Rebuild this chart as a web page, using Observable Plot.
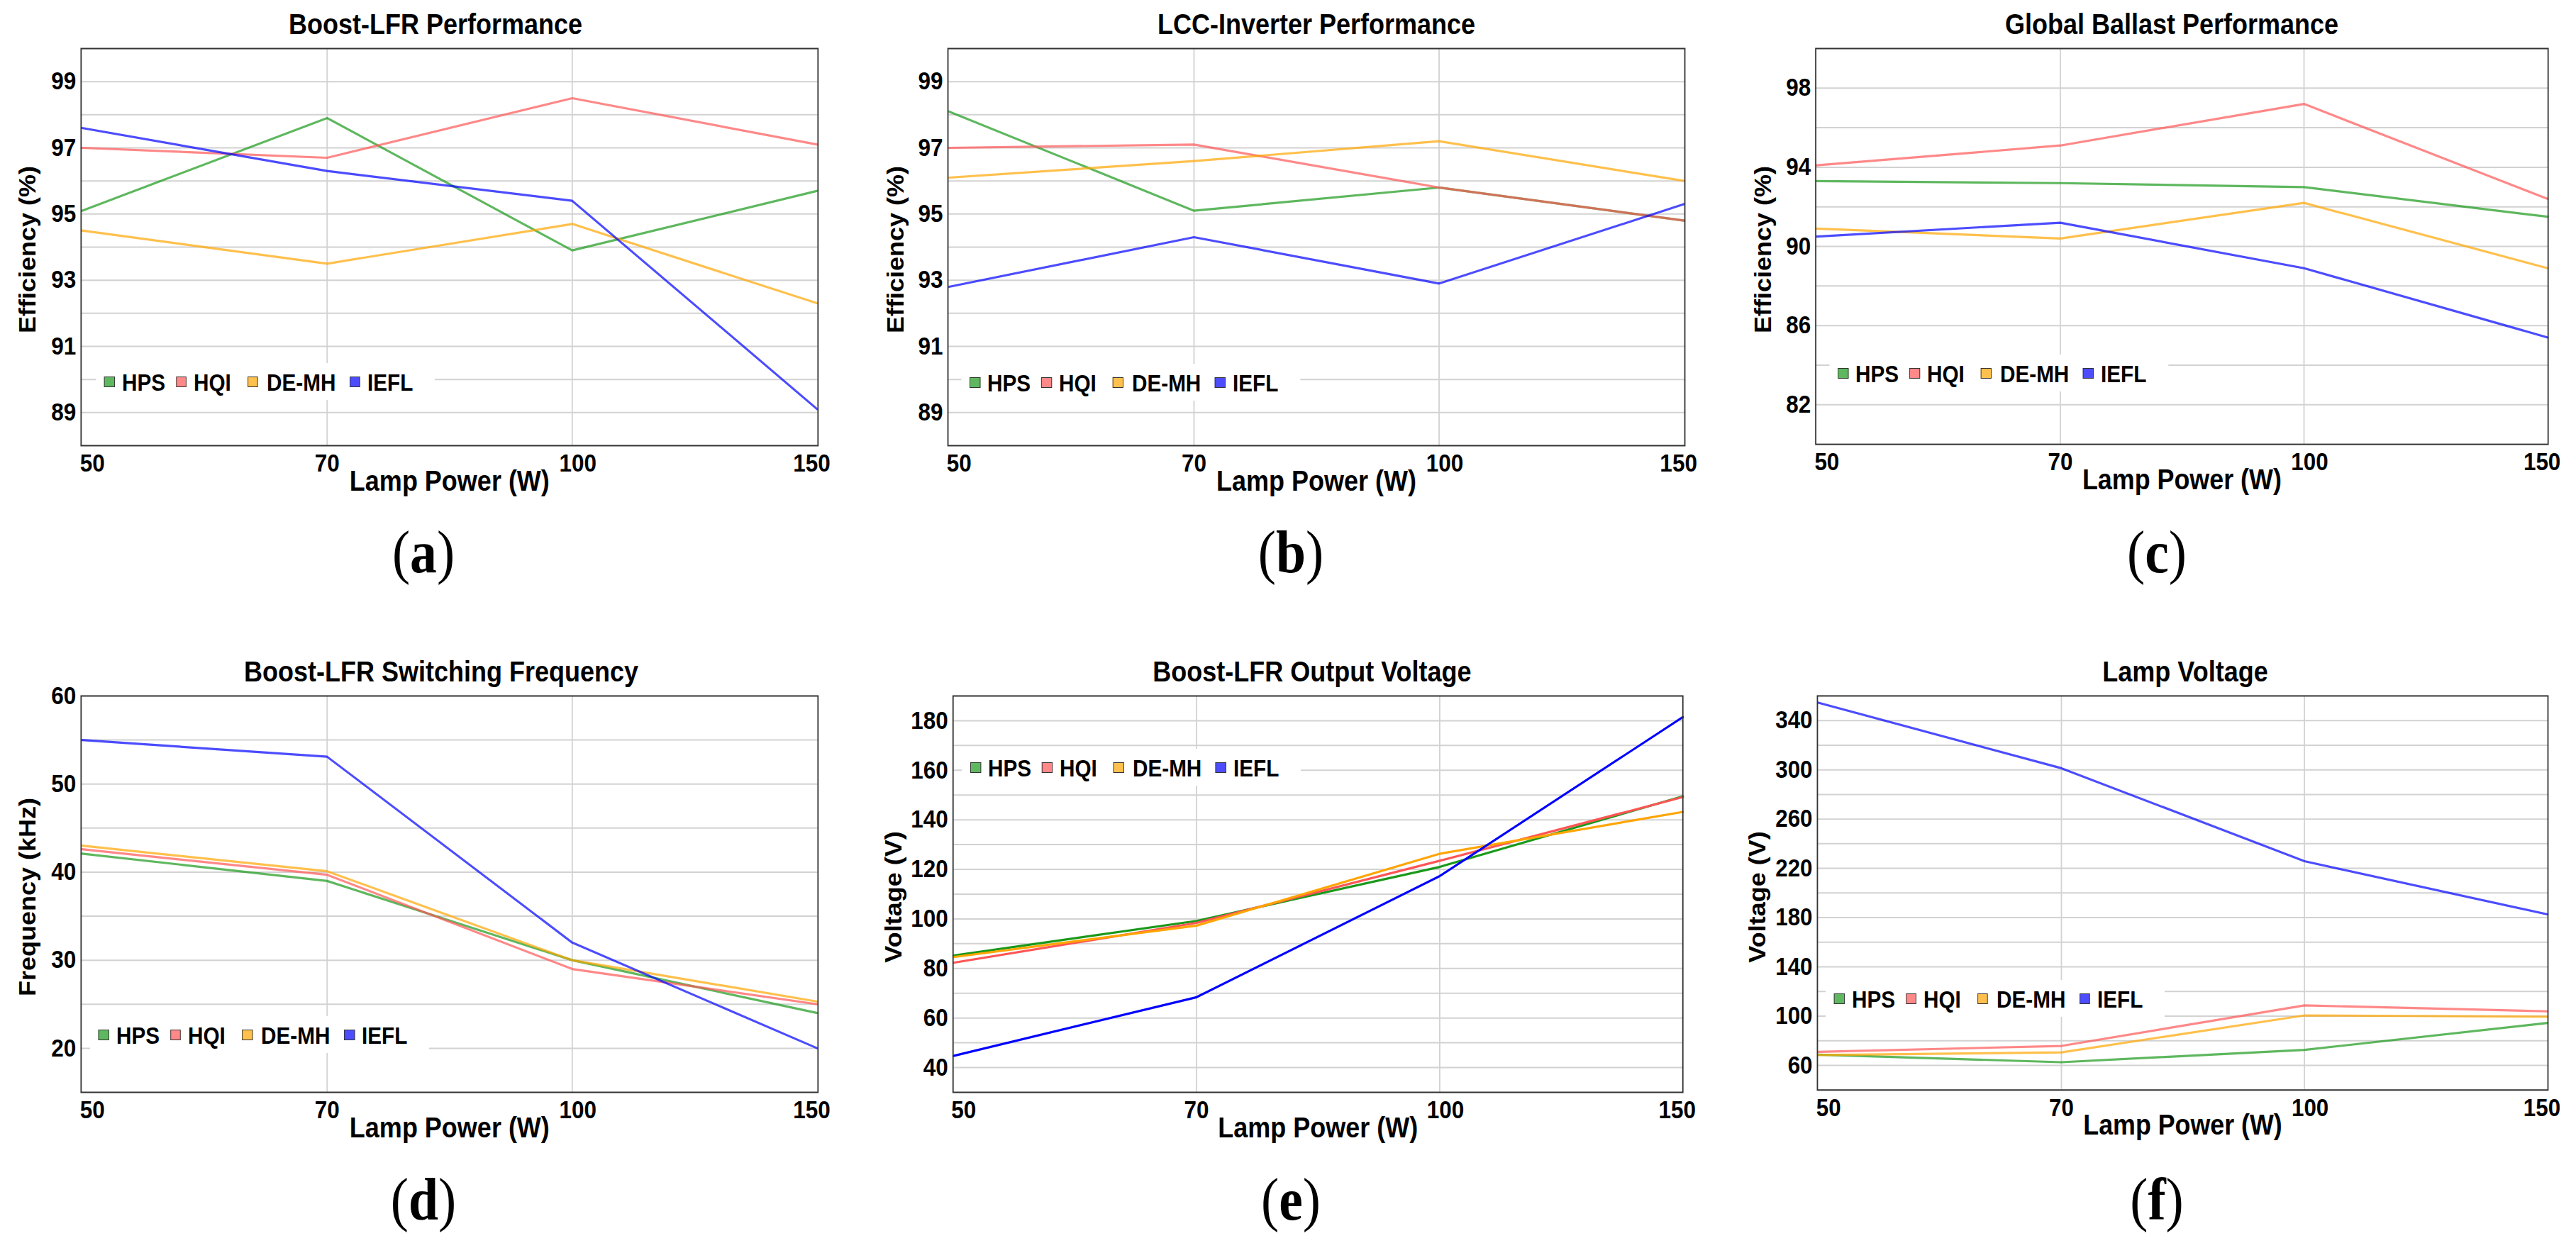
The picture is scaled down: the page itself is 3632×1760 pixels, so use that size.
<!DOCTYPE html>
<html>
<head>
<meta charset="utf-8">
<script src="https://cdn.jsdelivr.net/npm/d3@7"></script>
<script src="https://cdn.jsdelivr.net/npm/@observablehq/plot@0.6"></script>
<style>
  html, body { margin: 0; padding: 0; background: #fff; }
  body { width: 3632px; height: 1760px; overflow: hidden; position: relative; }
  #stage { position: absolute; left: 0; top: 0; height: 1760px; transform-origin: 0 0; }
  .title { position: absolute; font: bold 40px "Liberation Sans", Arial, sans-serif; line-height: 40px; white-space: nowrap; transform: translateX(-50%); color: #000; }
  .ylab { position: absolute; font: bold 36px "Liberation Sans", Arial, sans-serif; line-height: 36px; white-space: nowrap; transform: translate(-50%, -50%) rotate(-90deg); color: #000; }
  .caption { position: absolute; font: 84px "Liberation Serif", "Times New Roman", serif; line-height: 84px; white-space: nowrap; transform: translateX(-50%); color: #000; }
  .caption b { font-weight: bold; }
  .plotbox { position: absolute; }
  .legend { position: absolute; background: #fff; }
  .sw { position: absolute; box-sizing: border-box; border: 1.5px solid #333; }
  .lt { position: absolute; font: bold 33px "Liberation Sans", Arial, sans-serif; line-height: 33px; white-space: nowrap; color: #000; }
</style>
</head>
<body>
<div id="stage"></div>
<script>
// ---------- data ----------
const lampPower = [50, 70, 100, 150];
const lampTypes = ["HPS", "HQI", "DE-MH", "IEFL"];
const seriesColors = ["#1a991a", "#ff5555", "#ffa500", "#0000ff"];

// values per lamp type, in lampTypes order, at lampPower points
const boostLfrEfficiency = [
  [95.1, 97.9, 93.9, 95.7],
  [97.0, 96.7, 98.5, 97.1],
  [94.5, 93.5, 94.7, 92.3],
  [97.6, 96.3, 95.4, 89.1]
];
const lccInverterEfficiency = [
  [98.1, 95.1, 95.8, 94.8],
  [97.0, 97.1, 95.8, 94.8],
  [96.1, 96.6, 97.2, 96.0],
  [92.8, 94.3, 92.9, 95.3]
];
const globalBallastEfficiency = [
  [93.3, 93.2, 93.0, 91.5],
  [94.1, 95.1, 97.2, 92.4],
  [90.9, 90.4, 92.2, 88.9],
  [90.5, 91.2, 88.9, 85.4]
];
const switchingFrequency = [
  [42.1, 39.0, 30.0, 24.0],
  [42.6, 39.7, 29.0, 25.0],
  [43.0, 40.1, 30.0, 25.3],
  [55.0, 53.1, 32.0, 20.0]
];
const boostOutputVoltage = [
  [85.2, 99.2, 121.0, 149.5],
  [82.3, 98.4, 123.5, 149.2],
  [84.6, 97.3, 126.3, 143.2],
  [44.7, 68.4, 117.3, 181.5]
];
const lampVoltage = [
  [68.7, 62.6, 72.6, 94.5],
  [71.0, 75.8, 108.7, 103.9],
  [68.4, 70.6, 100.6, 99.5],
  [354.5, 301.3, 225.8, 182.6]
];

// ---------- axis ticks ----------
const effTicksAB = [89, 91, 93, 95, 97, 99];
const effGridAB = [89, 90, 91, 92, 93, 94, 95, 96, 97, 98, 99];
const effTicksC = [82, 86, 90, 94, 98];
const effGridC = [82, 84, 86, 88, 90, 92, 94, 96, 98];
const freqTicks = [20, 30, 40, 50, 60];
const freqGrid = [20, 25, 30, 35, 40, 45, 50, 55];
const outVTicks = [40, 60, 80, 100, 120, 140, 160, 180];
const outVGrid = [40, 50, 60, 70, 80, 90, 100, 110, 120, 130, 140, 150, 160, 170, 180];
const lampVTicks = [60, 100, 140, 180, 220, 260, 300, 340];
const lampVGrid = [60, 80, 100, 120, 140, 160, 180, 200, 220, 240, 260, 280, 300, 320, 340];

const titles = ["Boost-LFR Performance", "LCC-Inverter Performance", "Global Ballast Performance",
                "Boost-LFR Switching Frequency", "Boost-LFR Output Voltage", "Lamp Voltage"];
const yLabels = ["Efficiency (%)", "Efficiency (%)", "Efficiency (%)", "Frequency (kHz)", "Voltage (V)", "Voltage (V)"];
const xLabel = "Lamp Power (W)";
const captions = ["a", "b", "c", "d", "e", "f"];

// ---------- layout ----------
const S = 0.9; // horizontal condensing of the whole figure
const FONT = '"Liberation Sans", Arial, sans-serif';
const stage = document.getElementById("stage");
stage.style.width = (3632 / S) + "px";
stage.style.transform = `scaleX(${S})`;

const panels = [
  {values: boostLfrEfficiency, domain: [88, 100], ticks: effTicksAB, grid: effGridAB, fx0: 114, fx1: 1153, fy0: 68, fy1: 628, titleX: 614, titleTop: 14, capX: 597, capTop: 737, yDx: -75, legX: 33, legY: 538, opacity: 0.7},
  {values: lccInverterEfficiency, domain: [88, 100], ticks: effTicksAB, grid: effGridAB, fx0: 1336, fx1: 2375, fy0: 68, fy1: 628, titleX: 1856, titleTop: 14, capX: 1820, capTop: 737, yDx: -72, legX: 31, legY: 539, opacity: 0.7},
  {values: globalBallastEfficiency, domain: [80, 100], ticks: effTicksC, grid: effGridC, fx0: 2560, fx1: 3596, fy0: 68, fy1: 628, titleX: 3062, titleTop: 14, capX: 3041, capTop: 737, yDx: -74, legX: 31, legY: 526, opacity: 0.7},
  {values: switchingFrequency, domain: [15, 60], ticks: freqTicks, grid: freqGrid, fx0: 114, fx1: 1153, fy0: 981, fy1: 1540, titleX: 622, titleTop: 927, capX: 597, capTop: 1650, yDx: -75, legX: 25, legY: 1459, opacity: 0.7},
  {values: boostOutputVoltage, domain: [30, 190], ticks: outVTicks, grid: outVGrid, fx0: 1343, fx1: 2372, fy0: 981, fy1: 1540, titleX: 1850, titleTop: 927, capX: 1820, capTop: 1650, yDx: -83, legX: 25, legY: 1082, opacity: 1},
  {values: lampVoltage, domain: [40, 360], ticks: lampVTicks, grid: lampVGrid, fx0: 2563, fx1: 3599, fy0: 981, fy1: 1540, titleX: 3081, titleTop: 927, capX: 3041, capTop: 1650, yDx: -85, legX: 23, legY: 1408, opacity: 0.7}
];

const legendSwatchX = [0, 101, 202, 346];
const legendTextX = [25, 126, 229, 371];

function el(cls, css, html) {
  const d = document.createElement("div");
  d.className = cls;
  Object.assign(d.style, css);
  if (html !== undefined) d.innerHTML = html;
  stage.appendChild(d);
  return d;
}

panels.forEach((p, k) => {
  const ML = 140, MR = 40, MT = 10, MB = 90;
  const fw = p.fx1 - p.fx0, fh = p.fy1 - p.fy0;
  const rows = [];
  p.values.forEach((vals, si) => vals.forEach((v, i) => rows.push({power: lampPower[i], type: lampTypes[si], value: v})));
  const axisStyle = {tickSize: 0, fontSize: 35, fontWeight: "bold", label: null};
  const chart = Plot.plot({
    width: (ML + fw + MR) / S,
    height: MT + fh + MB,
    marginLeft: ML / S, marginRight: MR / S, marginTop: MT, marginBottom: MB,
    style: {fontFamily: FONT, background: "transparent", color: "#000", overflow: "visible"},
    x: {type: "point", domain: lampPower, padding: 0},
    y: {domain: p.domain},
    color: {domain: lampTypes, range: seriesColors},
    marks: [
      Plot.gridY(p.grid, {stroke: "#d2d2d2", strokeOpacity: 1, strokeWidth: 2}),
      Plot.gridX([70, 100], {stroke: "#d2d2d2", strokeOpacity: 1, strokeWidth: 2}),
      Plot.line(rows, {x: "power", y: "value", z: "type", stroke: "type", strokeWidth: 3.2, strokeOpacity: p.opacity}),
      Plot.frame({stroke: "#333", strokeWidth: 2}),
      Plot.axisY(p.ticks, {...axisStyle, tickPadding: 7 / S}),
      Plot.axisX([50], {...axisStyle, tickPadding: 12, textAnchor: "start", dx: -3 / S}),
      Plot.axisX([70], {...axisStyle, tickPadding: 12}),
      Plot.axisX([100], {...axisStyle, tickPadding: 12, dx: 8 / S}),
      Plot.axisX([150], {...axisStyle, tickPadding: 12, dx: -8 / S}),
      Plot.text([xLabel], {frameAnchor: "bottom", lineAnchor: "top", dy: 35, fontSize: 40, fontWeight: "bold"})
    ]
  });
  const box = el("plotbox", {left: ((p.fx0 - ML) / S) + "px", top: (p.fy0 - MT) + "px"});
  box.appendChild(chart);

  el("ylab", {left: ((p.fx0 + p.yDx) / S) + "px", top: ((p.fy0 + p.fy1) / 2 + 4) + "px"}, yLabels[k]);
  el("title", {left: (p.titleX / S) + "px", top: p.titleTop + "px"}, titles[k]);
  el("caption", {left: (p.capX / S) + "px", top: p.capTop + "px"}, `(<b>${captions[k]}</b>)`);

  // legend
  const lx = p.fx0 + p.legX - 12;
  const lg = el("legend", {left: (lx / S) + "px", top: (p.legY - 26) + "px", width: (478 / S) + "px", height: "52px"});
  lampTypes.forEach((t, i) => {
    const sw = document.createElement("div");
    sw.className = "sw";
    Object.assign(sw.style, {left: ((12 + legendSwatchX[i]) / S) + "px", top: "18.5px", width: (15 / S) + "px", height: "15px"});
    sw.style.background = d3.interpolateRgb("#ffffff", seriesColors[i])(0.7);
    lg.appendChild(sw);
    const tx = document.createElement("div");
    tx.className = "lt";
    Object.assign(tx.style, {left: ((12 + legendTextX[i]) / S) + "px", top: "11px"});
    tx.textContent = t;
    lg.appendChild(tx);
  });
});
</script>
</body>
</html>
